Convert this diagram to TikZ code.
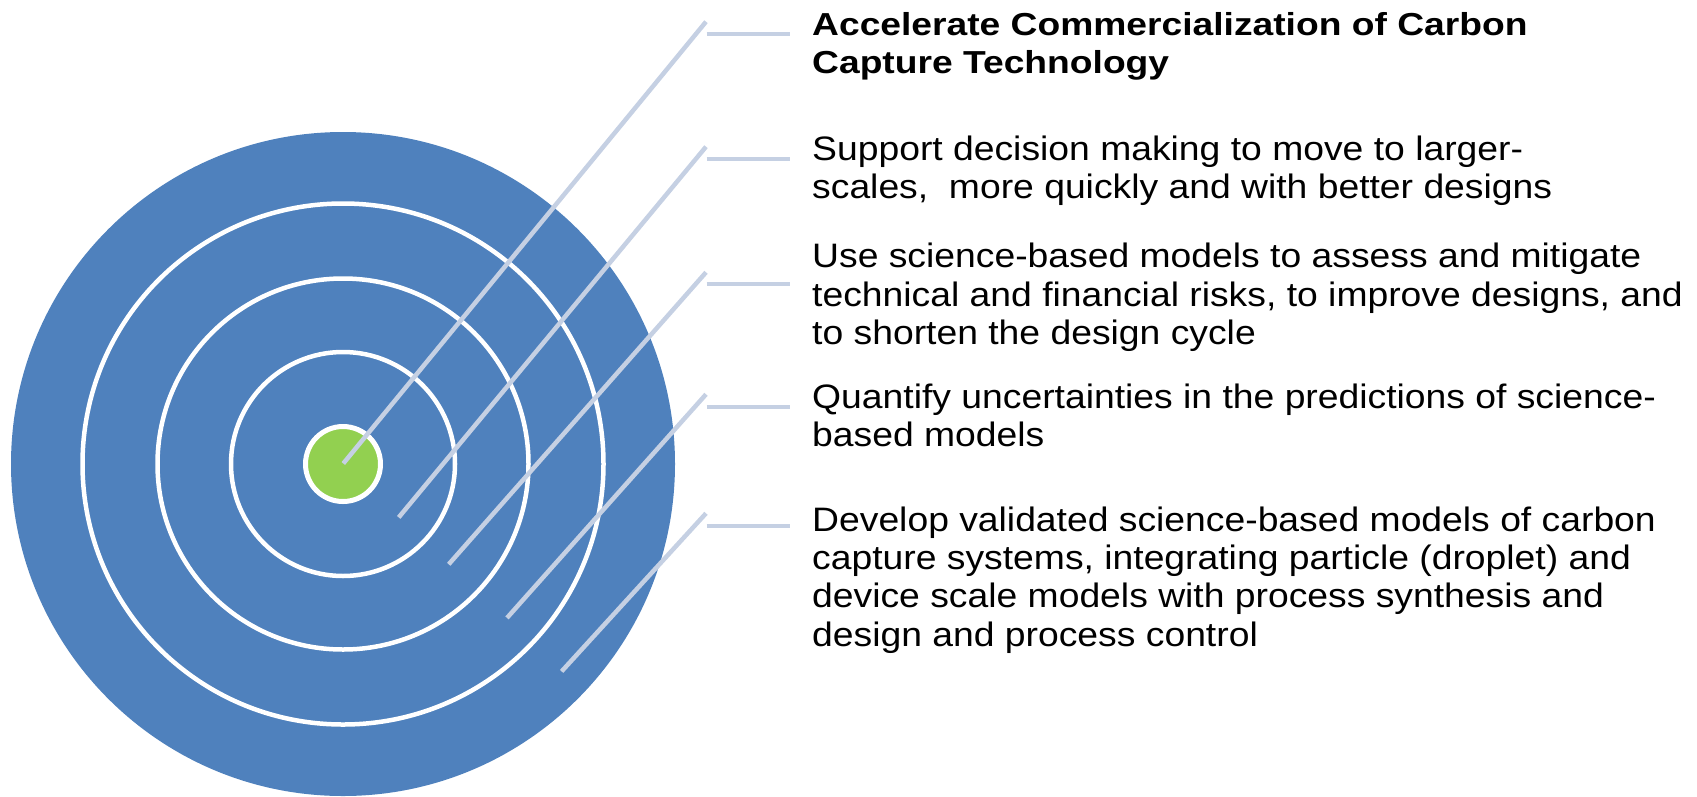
\documentclass[tikz,border=0pt]{standalone}
\usepackage{fontspec}
\setmainfont{Liberation Sans}[FakeStretch=1.1]
\newfontfamily\ttlfont{Liberation Sans}[FakeStretch=1.17]
\definecolor{tblue}{HTML}{4F81BD}
\definecolor{tgreen}{HTML}{92D050}
\definecolor{tline}{RGB}{197,208,227}
\begin{document}
\begin{tikzpicture}[x=1pt,y=-1pt,
  ring/.style={draw=white,line width=4.5pt},
  conn/.style={draw=tline,line width=4.5pt},
  hconn/.style={draw=tline,line width=4pt},
  lbl/.style={anchor=north west,inner sep=0pt,align=left,font=\fontsize{33.9}{38.3}\selectfont},
  ttl/.style={anchor=north west,inner sep=0pt,align=left,font=\ttlfont\fontsize{31.8}{37.6}\selectfont\bfseries}]
\useasboundingbox (0,0) rectangle (1697,796);
% target
\fill[tblue] (343,464) circle[radius=332pt];
\draw[ring] (343,464) circle[radius=260.5pt];
\draw[ring] (343,464) circle[radius=185.5pt];
\draw[ring] (343,464) circle[radius=112pt];
\node[circle,draw=white,line width=5pt,fill=tgreen,minimum size=75pt,inner sep=0pt] (bull) at (343,464) {};
% connector end points
\coordinate (d1b) at (343.3,463.5); \coordinate (d1t) at (706,21.7);
\coordinate (h1a) at (706.5,34.3);  \coordinate (h1b) at (790,34.3);
\coordinate (d2b) at (398.7,517.4); \coordinate (d2t) at (706,146.7);
\coordinate (h2a) at (706.5,159.3); \coordinate (h2b) at (790,159.3);
\coordinate (d3b) at (448.7,564.3); \coordinate (d3t) at (706,272.3);
\coordinate (h3a) at (706.5,284.3); \coordinate (h3b) at (790,284.3);
\coordinate (d4b) at (507,617.9);   \coordinate (d4t) at (706,394.3);
\coordinate (h4a) at (706.5,406.7); \coordinate (h4b) at (790,406.7);
\coordinate (d5b) at (561.6,671.4); \coordinate (d5t) at (706,513.3);
\coordinate (h5a) at (706.5,525.7); \coordinate (h5b) at (790,525.7);
\foreach \i in {1,...,5}{
  \draw[conn] (d\i b) -- (d\i t);
  \draw[hconn] (h\i a) -- (h\i b);
}
% texts
\node[ttl] (t1) at (812,5.7) {\rule{0pt}{30pt}Accelerate Commercialization of Carbon\\Capture Technology};
\node[lbl] (t2) at (812,130) {\rule{0pt}{30pt}Support decision making to move to larger-\\scales,\ \ more quickly and with better designs};
\node[lbl] (t3) at (812,237.7) {\rule{0pt}{30pt}Use science-based models to assess and mitigate\\technical and financial risks, to improve designs, and\\to shorten the design cycle};
\node[lbl] (t4) at (812,378.3) {\rule{0pt}{30pt}Quantify uncertainties in the predictions of science-\\based models};
\node[lbl] (t5) at (812,501) {\rule{0pt}{30pt}Develop validated science-based models of carbon\\capture systems, integrating particle (droplet) and\\device scale models with process synthesis and\\design and process control};
\end{tikzpicture}
\end{document}
